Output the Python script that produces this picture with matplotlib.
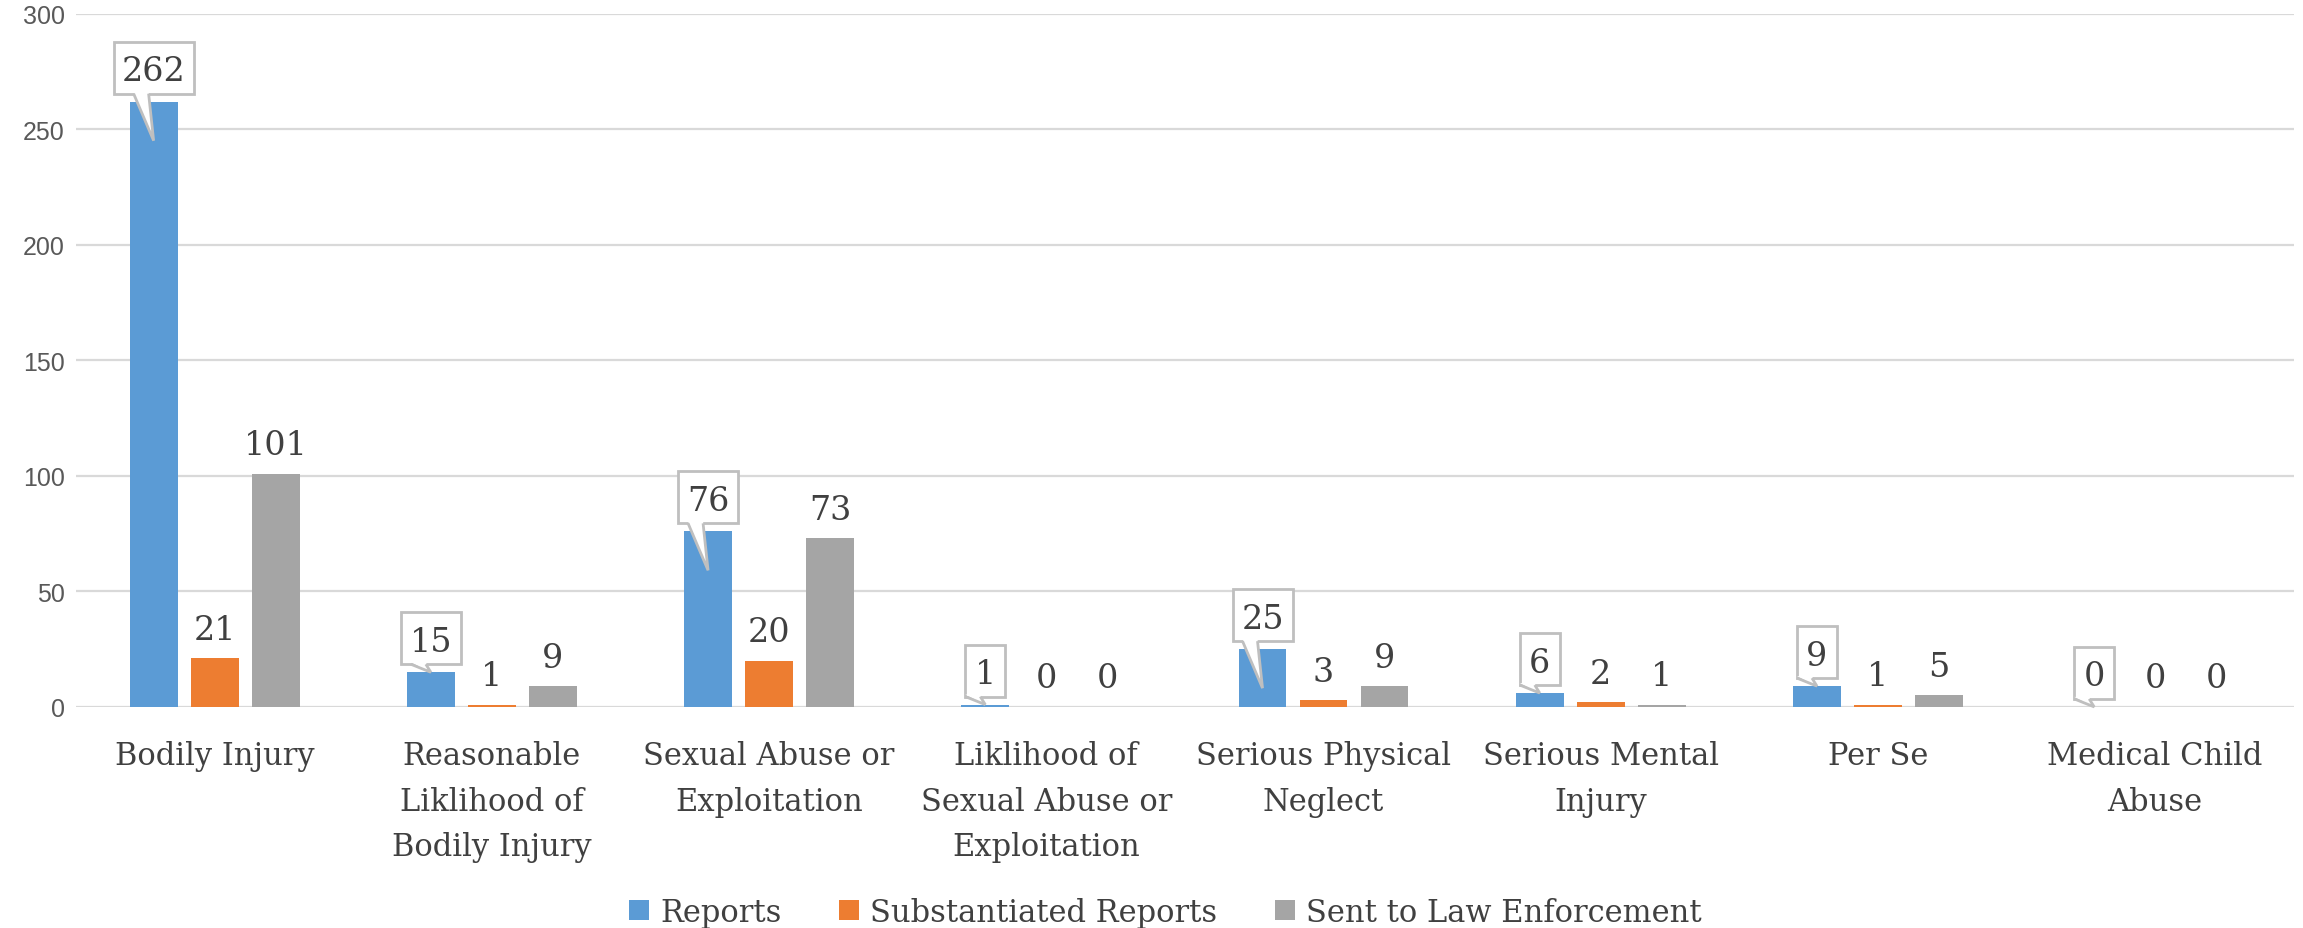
import numpy as np
import matplotlib
matplotlib.use("Agg")
import matplotlib.pyplot as plt
import matplotlib.transforms as mtransforms
from matplotlib.patches import Rectangle, Polygon

categories = [
    "Bodily Injury",
    "Reasonable\nLiklihood of\nBodily Injury",
    "Sexual Abuse or\nExploitation",
    "Liklihood of\nSexual Abuse or\nExploitation",
    "Serious Physical\nNeglect",
    "Serious Mental\nInjury",
    "Per Se",
    "Medical Child\nAbuse",
]
series_names = ["Reports", "Substantiated Reports", "Sent to Law Enforcement"]
reports = [262, 15, 76, 1, 25, 6, 9, 0]
substantiated = [21, 1, 20, 0, 3, 2, 1, 0]
law_enforcement = [101, 9, 73, 0, 9, 1, 5, 0]
yticks = [0, 50, 100, 150, 200, 250, 300]

colors = ["#5b9bd5", "#ed7d31", "#a5a5a5"]
serif = "DejaVu Serif"
label_color = "#404040"
grid_color = "#d9d9d9"

fig = plt.figure(figsize=(23.03, 9.29), dpi=100)
ax = fig.add_axes([0.033, 0.238, 0.963, 0.746])

x = np.arange(len(categories))
width = 0.173
step = 0.22
all_series = [reports, substantiated, law_enforcement]

for i, (vals, col, name) in enumerate(zip(all_series, colors, series_names)):
    ax.bar(x + (i - 1) * step, vals, width, color=col, label=name, zorder=2)

ax.set_xlim(-0.5, len(categories) - 0.5)
ax.set_ylim(0, 300)
ax.set_yticks(yticks, labels=[str(t) for t in yticks], fontsize=18,
              fontfamily="Liberation Sans", color="#595959")
ax.yaxis.grid(True, color=grid_color, linewidth=1.6, zorder=0)
ax.set_axisbelow(True)
for s in ax.spines.values():
    s.set_visible(False)
ax.tick_params(axis="y", length=0, pad=8)
ax.set_xticks(x, labels=categories, fontsize=22, fontfamily=serif,
              color=label_color, linespacing=1.6, va="top")
ax.tick_params(axis="x", length=0, pad=24)

# plain labels for the second and third series
for i in (1, 2):
    for xi, v in zip(x, all_series[i]):
        ax.annotate(str(v), (xi + (i - 1) * step, v), xytext=(0, 14),
                    textcoords="offset points", ha="center", va="baseline",
                    fontsize=24, family=serif, color=label_color, zorder=5)

# callout labels for Reports (vertex offsets in pixels from the bar top)
fig.canvas.draw()
px_per_unit = ax.transData.transform((0, 1))[1] - ax.transData.transform((0, 0))[1]
for xi, v in zip(x - step, reports):
    tr = mtransforms.ScaledTranslation(xi, v, ax.transData)
    s = str(v)
    bw = 20 + 20 * len(s)
    bh = 52
    gap = 8
    depth = 39 if v * px_per_unit > 45 else 0
    box = Rectangle((-bw / 2, gap), bw, bh, transform=tr, facecolor="white",
                    edgecolor="#bfbfbf", linewidth=2, zorder=6, clip_on=False)
    fig.add_artist(box)
    fill = Polygon([(-20, gap + 2), (-5, gap + 2), (0, -depth)], closed=True,
                   transform=tr, facecolor="white", edgecolor="none",
                   zorder=7, clip_on=False)
    fig.add_artist(fill)
    side = Polygon([(-20, gap), (0, -depth), (-5, gap)], closed=False,
                   transform=tr, facecolor="none", edgecolor="#bfbfbf",
                   linewidth=2, zorder=7, clip_on=False)
    fig.add_artist(side)
    fig.text(0, gap + bh / 2, s, transform=tr, ha="center",
             va="center_baseline", fontsize=24, family=serif,
             color=label_color, zorder=8)

handles, labels = ax.get_legend_handles_labels()
leg = fig.legend(handles, labels, loc="center", bbox_to_anchor=(0.506, 0.017),
                 ncol=3, frameon=False, handlelength=0.65, handleheight=0.65,
                 handletextpad=0.35, columnspacing=1.9,
                 prop={"family": serif, "size": 22})
for t in leg.get_texts():
    t.set_color(label_color)

fig.savefig("out.png", dpi=100)
